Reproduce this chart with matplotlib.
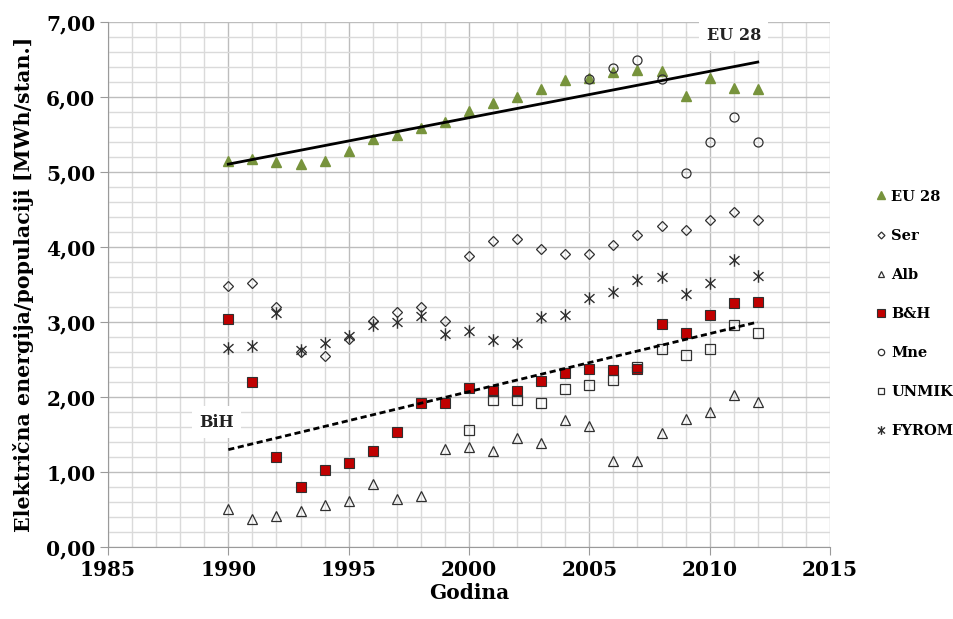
import matplotlib
matplotlib.use("Agg")
import matplotlib.pyplot as plt
import numpy as np
from matplotlib.path import Path
from matplotlib.ticker import MultipleLocator, FuncFormatter

plt.rcParams['font.family'] = ['DejaVu Serif']
plt.rcParams['font.weight'] = 'bold'
plt.rcParams['axes.labelweight'] = 'bold'

years = np.arange(1990, 2013)
eu28 = [5.15, 5.18, 5.14, 5.11, 5.15, 5.29, 5.45, 5.50, 5.59, 5.67, 5.82, 5.93,
        6.01, 6.11, 6.23, 6.26, 6.34, 6.36, 6.35, 6.02, 6.26, 6.12, 6.11]
ser = [3.49, 3.52, 3.21, 2.60, 2.55, 2.78, 3.02, 3.14, 3.21, 3.02, 3.88, 4.09,
       4.11, 3.98, 3.91, 3.91, 4.03, 4.17, 4.29, 4.23, 4.36, 4.47, 4.37]
alb = [0.51, 0.38, 0.42, 0.49, 0.56, 0.62, 0.84, 0.65, 0.68, 1.31, 1.34, 1.28,
       1.46, 1.39, 1.70, 1.62, 1.15, 1.15, 1.52, 1.71, 1.80, 2.03, 1.94]
bih = [3.04, 2.21, 1.21, 0.80, 1.03, 1.12, 1.29, 1.54, 1.92, 1.92, 2.13, 2.08,
       2.09, 2.22, 2.32, 2.38, 2.37, 2.38, 2.98, 2.86, 3.10, 3.26, 3.27]
mne_years = np.arange(2005, 2013)
mne = [6.24, 6.39, 6.50, 6.24, 4.99, 5.41, 5.74, 5.41]
unmik_years = np.arange(2000, 2013)
unmik = [1.57, 1.96, 1.96, 1.92, 2.11, 2.17, 2.23, 2.41, 2.64, 2.56, 2.65, 2.96, 2.86]
fyrom = [2.66, 2.69, 3.12, 2.63, 2.73, 2.82, 2.96, 3.01, 3.08, 2.85, 2.88, 2.77,
         2.73, 3.07, 3.10, 3.32, 3.41, 3.57, 3.61, 3.38, 3.52, 3.83, 3.62]

green = '#77933C'
red = '#C00000'
edge = '#303030'

# star marker: vertical bar plus an x
star = Path([(0, -1), (0, 1), (-0.8, -0.7), (0.8, 0.7), (-0.8, 0.7), (0.8, -0.7)],
            [Path.MOVETO, Path.LINETO, Path.MOVETO, Path.LINETO, Path.MOVETO, Path.LINETO])

fig = plt.figure(figsize=(9.54, 6.19), dpi=100)
ax = fig.add_axes([0.1132, 0.1158, 0.7568, 0.8482])

ax.plot(years, eu28, ls='none', marker='^', ms=7.5, color=green, mec=green, label='EU 28', zorder=3)
ax.plot(years, ser, ls='none', marker='D', ms=5.0, mfc='none', mec=edge, mew=0.9, label='Ser', zorder=3)
ax.plot(years, alb, ls='none', marker='^', ms=7, mfc='none', mec=edge, mew=0.9, label='Alb', zorder=3)
ax.plot(years, bih, ls='none', marker='s', ms=7.3, mfc=red, mec=edge, mew=0.8, label='B&H', zorder=3)
ax.plot(mne_years, mne, ls='none', marker='o', ms=6.5, mfc='none', mec=edge, mew=0.9, label='Mne', zorder=3)
ax.plot(unmik_years, unmik, ls='none', marker='s', ms=6.5, mfc='none', mec=edge, mew=0.9, label='UNMIK', zorder=3)
ax.plot(years, fyrom, ls='none', marker=star, ms=9, mfc='none', mec=edge, mew=1.0, label='FYROM', zorder=3)

# linear trend lines
k, b = np.polyfit(years, eu28, 1)
ax.plot(years[[0, -1]], k * years[[0, -1]] + b, color='black', lw=2, zorder=4)
k, b = np.polyfit(years, bih, 1)
ax.plot(years[[0, -1]], k * years[[0, -1]] + b, color='black', lw=2, dashes=(2.2, 1.3), zorder=4)

ax.text(2011.0, 6.83, 'EU 28', ha='center', va='center', fontsize=11.5, color='#222222', zorder=5,
        bbox=dict(facecolor='white', edgecolor='none', boxstyle='square,pad=0.45'))
ax.text(1989.5, 1.67, 'BiH', ha='center', va='center', fontsize=11.5, color='#222222', zorder=5,
        bbox=dict(facecolor='white', edgecolor='none', boxstyle='square,pad=0.45'))

ax.set_xlim(1985, 2015)
ax.set_ylim(0, 7)
ax.xaxis.set_major_locator(MultipleLocator(5))
ax.xaxis.set_minor_locator(MultipleLocator(1))
ax.yaxis.set_major_locator(MultipleLocator(1))
ax.yaxis.set_minor_locator(MultipleLocator(0.2))
ax.yaxis.set_major_formatter(FuncFormatter(lambda v, p: f'{v:.2f}'.replace('.', ',')))

ax.grid(which='major', color='#BDBDBD', lw=1.0, zorder=0)
ax.grid(which='minor', color='#DADADA', lw=1.0, zorder=0)
ax.set_axisbelow(True)
for s in ['top', 'right']:
    ax.spines[s].set_visible(False)
for s in ['left', 'bottom']:
    ax.spines[s].set_color('#9A9A9A')
ax.tick_params(which='major', length=6, color='#9A9A9A', labelsize=14.5, pad=3)
ax.tick_params(which='minor', length=0)

ax.set_xlabel('Godina', fontsize=14.5, labelpad=2)
ax.set_ylabel('Električna energija/populaciji [MWh/stan.]', fontsize=14.8, labelpad=9)

fig.legend(loc='upper left', bbox_to_anchor=(0.905, 0.715), frameon=False, fontsize=10.5,
           markerscale=0.7, handlelength=0.6, handletextpad=0.4, labelspacing=1.72)

fig.savefig('out.png', dpi=100)
